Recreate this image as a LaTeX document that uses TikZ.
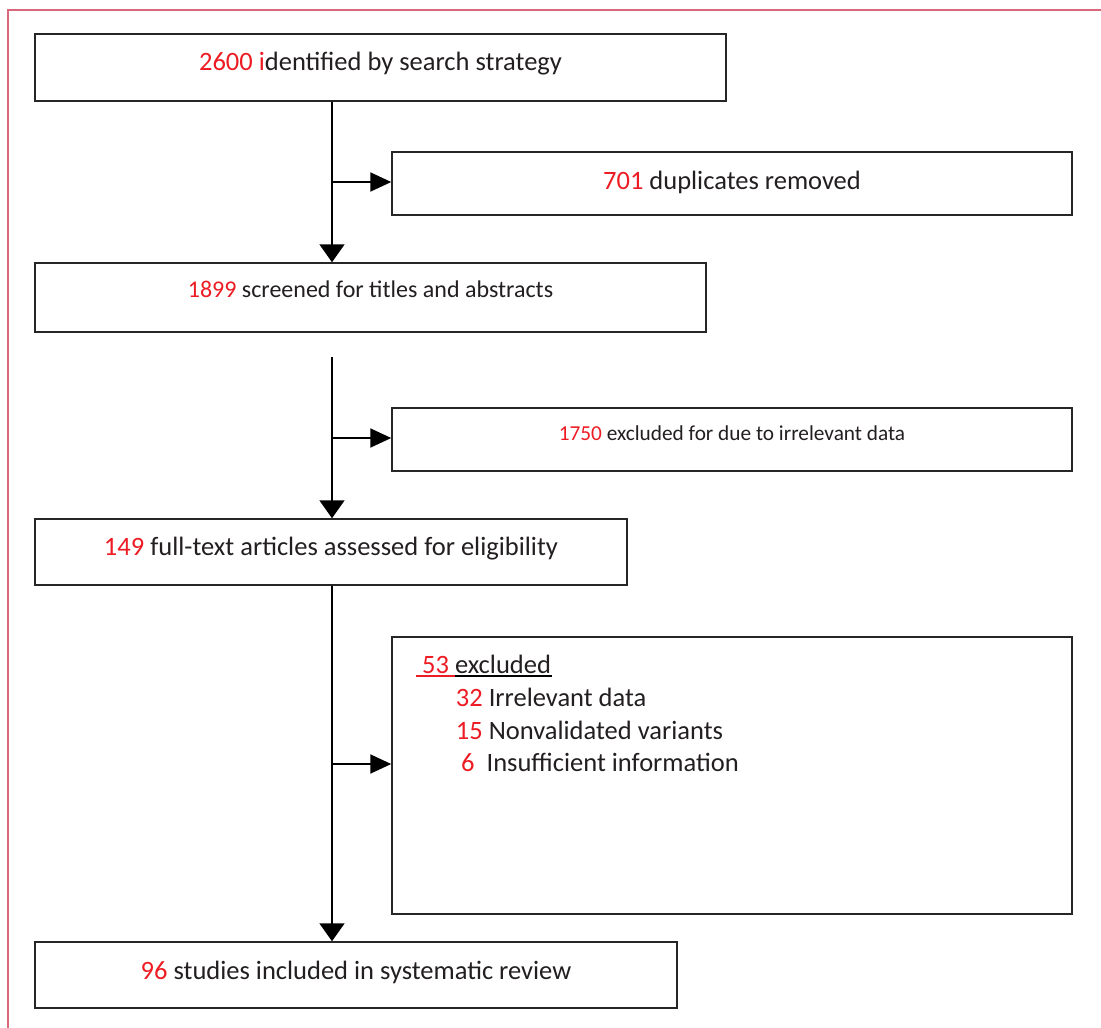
\documentclass[tikz,border=0pt]{standalone}
\usepackage{fontspec}
\setmainfont{Carlito}
\usetikzlibrary{arrows.meta,calc}
\definecolor{numred}{RGB}{237,28,36}
\definecolor{txt}{RGB}{35,31,32}
\definecolor{framecol}{RGB}{218,104,124}
\begin{document}
\begin{tikzpicture}[x=1pt,y=-1pt,
  box/.style={draw=black!85, line width=1.5pt, inner sep=0pt, fill=white},
  lbl/.style={anchor=base, text=txt, inner sep=0pt},
  big/.style={font=\fontsize{26.5}{32}\selectfont},
  mid/.style={font=\fontsize{24}{29}\selectfont},
  small/.style={font=\fontsize{21.3}{26}\selectfont},
  link/.style={line width=2pt, black},
  down/.style={link, -{Triangle[length=18pt,width=25pt]}},
  side/.style={link, -{Triangle[length=21pt,width=19pt]}},
]
\useasboundingbox (0,0) rectangle (1101,1028);
% outer frame (top and left edges)
\draw[framecol, line width=1.2pt] (8,1028) -- (8,10) -- (1101,10);

% boxes
\node[box, minimum width=691, minimum height=67] (b1) at (380.5,67.5) {};
\node[box, minimum width=680, minimum height=63] (b2) at (732,183.5) {};
\node[box, minimum width=671, minimum height=69] (b3) at (370.5,297.5) {};
\node[box, minimum width=680, minimum height=63] (b4) at (732,439.5) {};
\node[box, minimum width=592, minimum height=66] (b5) at (331,552) {};
\node[box, minimum width=680, minimum height=277] (b6) at (732,775.5) {};
\node[box, minimum width=642, minimum height=66] (b7) at (356,975) {};

% box texts
\node[lbl, big] (t1) at ($(b1.north)+(0,37)$) {\textcolor{numred}{2600 i}dentified by search strategy};
\node[lbl, big] (t2) at ($(b2.north)+(0,38)$) {\textcolor{numred}{701} duplicates removed};
\node[lbl, mid] (t3) at ($(b3.north)+(0,35)$) {\textcolor{numred}{1899} screened for titles and abstracts};
\node[lbl, small] (t4) at ($(b4.north)+(0,33)$) {\textcolor{numred}{1750} excluded for due to irrelevant data};
\node[lbl, big] (t5) at ($(b5.north)+(0,37)$) {\textcolor{numred}{149} full-text articles assessed for eligibility};
\node[lbl, big] (t7) at ($(b7.north)+(0,38)$) {\textcolor{numred}{96} studies included in systematic review};

% exclusion breakdown
\node[lbl, big, anchor=base west] (e0) at (422,673) {\textcolor{numred}{53} excluded};
\node[lbl, big, anchor=base west] (e1) at (455.7,706) {\textcolor{numred}{32} Irrelevant data};
\node[lbl, big, anchor=base west] (e2) at (455.7,739) {\textcolor{numred}{15} Nonvalidated variants};
\node[lbl, big, anchor=base west] (e3) at (461,771) {\textcolor{numred}{6}\hspace{12pt}Insufficient information};
\draw[numred, line width=2pt] ($(e0.base west)+(-6,3)$) -- ($(e0.base west)+(33,3)$);
\draw[black, line width=2pt] ($(e0.base west)+(33,3)$) -- ($(e0.base east)+(1,3)$);

% trunk and branches
\coordinate (trunk) at (332,0);
\draw[down] (b1.south -| trunk) -- (b3.north -| trunk);
\coordinate (j1) at (332,182);
\draw[side] (j1) -- (j1 -| b2.west);
\coordinate (s2) at (332,357);
\draw[down] (s2) -- (b5.north -| trunk);
\coordinate (j2) at (332,438);
\draw[side] (j2) -- (j2 -| b4.west);
\draw[down] (b5.south -| trunk) -- (b7.north -| trunk);
\coordinate (j3) at (332,764);
\draw[side] (j3) -- (j3 -| b6.west);
\end{tikzpicture}
\end{document}
